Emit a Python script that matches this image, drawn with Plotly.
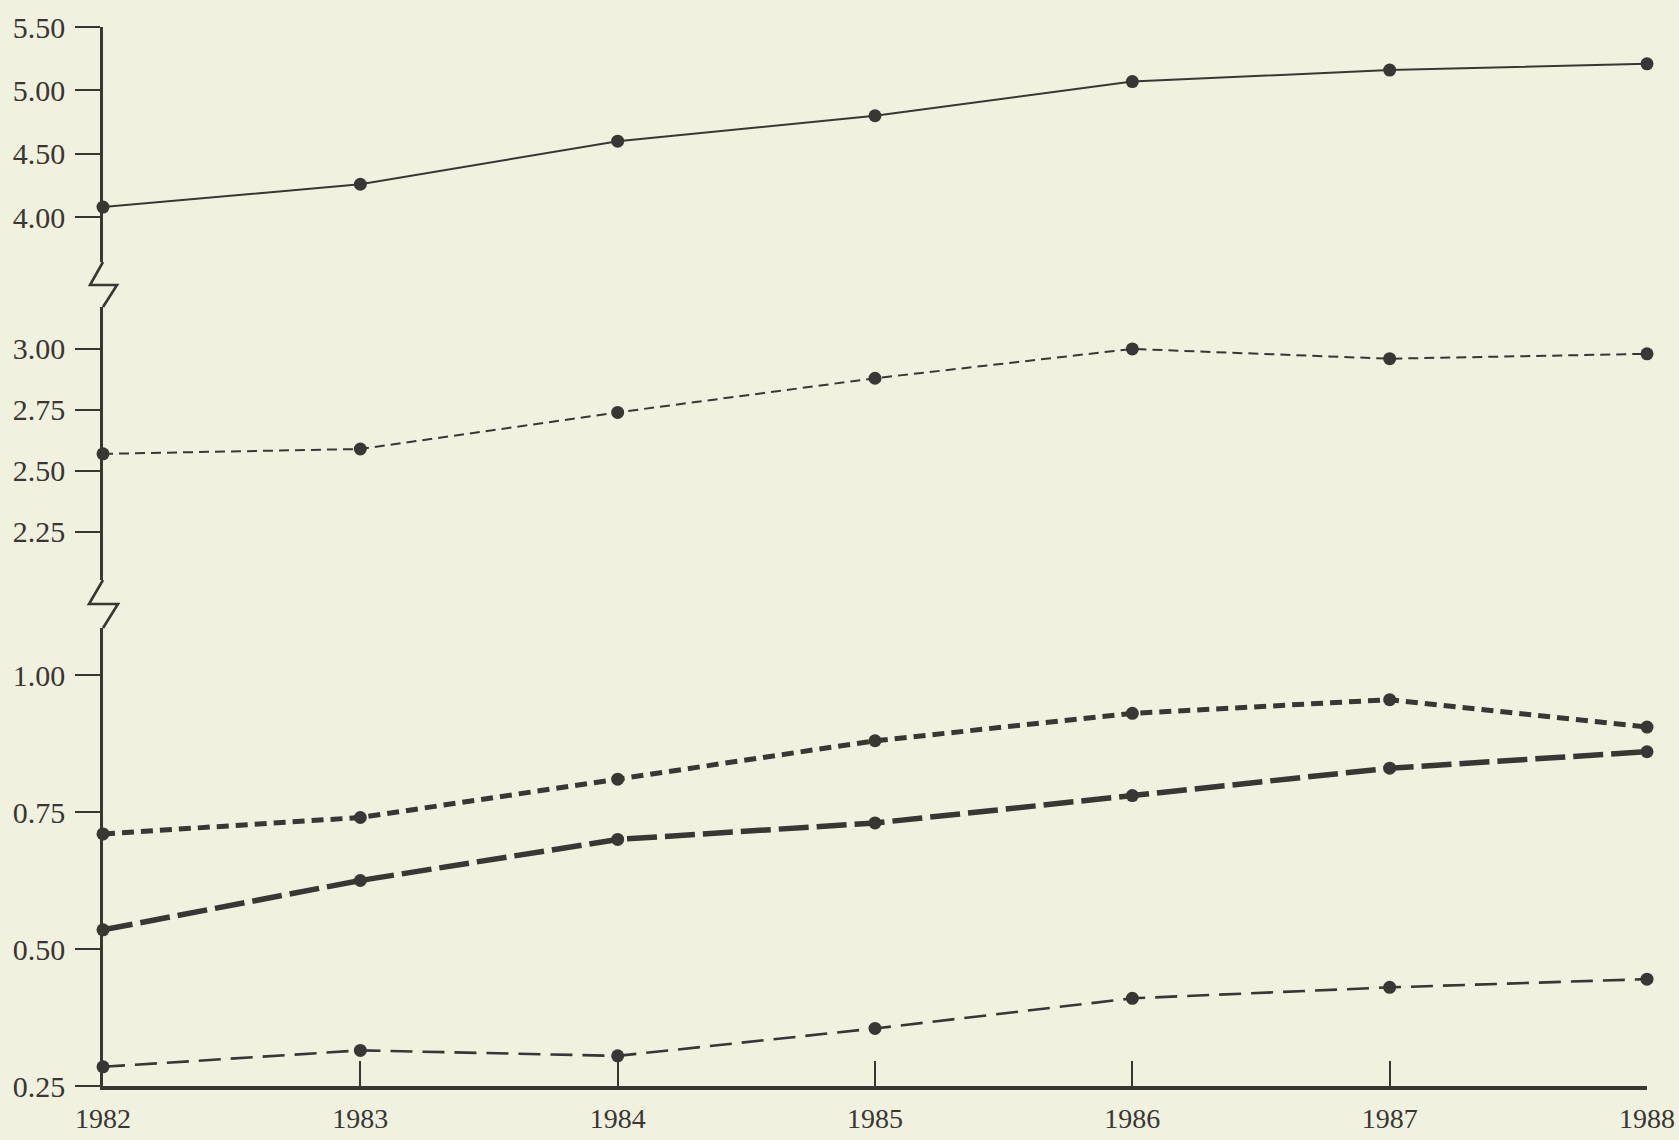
import plotly.graph_objects as go

# ---------------- data ----------------
years = [1982, 1983, 1984, 1985, 1986, 1987, 1988]
series_top = [4.08, 4.26, 4.60, 4.80, 5.07, 5.16, 5.21]
series_mid = [2.57, 2.59, 2.74, 2.88, 3.00, 2.96, 2.98]
series_short_heavy = [0.71, 0.74, 0.81, 0.88, 0.93, 0.955, 0.905]
series_long_heavy = [0.535, 0.625, 0.70, 0.73, 0.78, 0.83, 0.86]
series_low = [0.285, 0.315, 0.305, 0.355, 0.41, 0.43, 0.445]

ticks_top = [4.00, 4.50, 5.00, 5.50]
ticks_mid = [2.25, 2.50, 2.75, 3.00]
ticks_bot = [0.25, 0.50, 0.75, 1.00]

# ---------------- style ----------------
INK = "#3a3633"
BG = "#f0f2df"
FONT = "Liberation Serif"

W, H = 1679, 1140
L, R, T, B = 103, 32, 27, 54
PW = W - L - R
PH = H - T - B


def py(ypix):
    return (H - B - ypix) / PH


def px(xpix):
    return (xpix - L) / PW


fig = go.Figure()


def add(y, axis, width, dash):
    fig.add_trace(go.Scatter(
        x=years, y=y, yaxis=axis, mode="lines+markers",
        line=dict(color=INK, width=width, dash=dash),
        marker=dict(color=INK, size=13, symbol="circle"),
        cliponaxis=False, showlegend=False, hoverinfo="x+y",
    ))


add(series_top, "y3", 2.0, "solid")
add(series_mid, "y2", 2.0, "10px,6px")
add(series_short_heavy, "y", 5.0, "12px,7px")
add(series_long_heavy, "y", 5.5, "30px,8px")
add(series_low, "y", 2.6, "22px,10px")

yax_common = dict(
    showgrid=False, zeroline=False, showline=True, linecolor=INK, linewidth=2.6,
    ticks="outside", ticklen=25, tickwidth=1.8, tickcolor=INK,
    tickfont=dict(family=FONT, size=30, color=INK), tickformat=".2f",
    ticklabelstandoff=4, anchor="x", automargin=False,
)
yin_common = dict(
    showgrid=False, zeroline=False, showline=False, showticklabels=False,
    ticks="inside", ticklen=27, tickwidth=1.8, tickcolor=INK, anchor="x",
    automargin=False,
)

dom_top = [py(262), 1.0]
dom_mid = [py(580), py(307)]
dom_bot = [0.0, py(628)]

rng_top = [3.647, 5.50]
rng_mid = [2.053, 3.172]
rng_bot = [0.25, 1.0858]

fig.update_layout(
    width=W, height=H,
    margin=dict(l=L, r=R, t=T, b=B, autoexpand=False),
    paper_bgcolor=BG, plot_bgcolor=BG,
    xaxis=dict(
        range=[1982, 1988], domain=[0, 1], anchor="y",
        tickvals=years, ticktext=[str(v) for v in years],
        showgrid=False, zeroline=False, showline=True, linecolor=INK, linewidth=3.5,
        ticks="inside", ticklen=25, tickwidth=1.8, tickcolor=INK,
        tickfont=dict(family=FONT, size=28, color=INK), ticklabelstandoff=5,
        automargin=False,
    ),
    yaxis=dict(domain=dom_bot, range=rng_bot, tickvals=ticks_bot, **yax_common),
    yaxis2=dict(domain=dom_mid, range=rng_mid, tickvals=ticks_mid, **yax_common),
    yaxis3=dict(domain=dom_top, range=rng_top, tickvals=ticks_top, **yax_common),
    yaxis4=dict(overlaying="y", range=rng_bot, tickvals=[0.50, 0.75, 1.00], **yin_common),
    yaxis5=dict(overlaying="y2", range=rng_mid, tickvals=ticks_mid, **yin_common),
    yaxis6=dict(overlaying="y3", range=rng_top, tickvals=ticks_top, **yin_common),
)

# axis-break zigzags (decoration)
def zig(pts):
    path = "M " + " L ".join(f"{px(a):.5f},{py(b):.5f}" for a, b in pts)
    fig.add_shape(type="path", path=path, xref="paper", yref="paper",
                  line=dict(color=INK, width=2.6), layer="above")

zig([(103, 262), (90, 285), (117, 285), (103, 307)])
zig([(103, 580), (89, 604), (118, 604), (103, 628)])

fig.write_html(
    "out.html",
    config={"displayModeBar": False},
    post_script=f"document.body.style.margin='0';document.body.style.background='{BG}';"
                "document.body.style.overflow='hidden';",
)
